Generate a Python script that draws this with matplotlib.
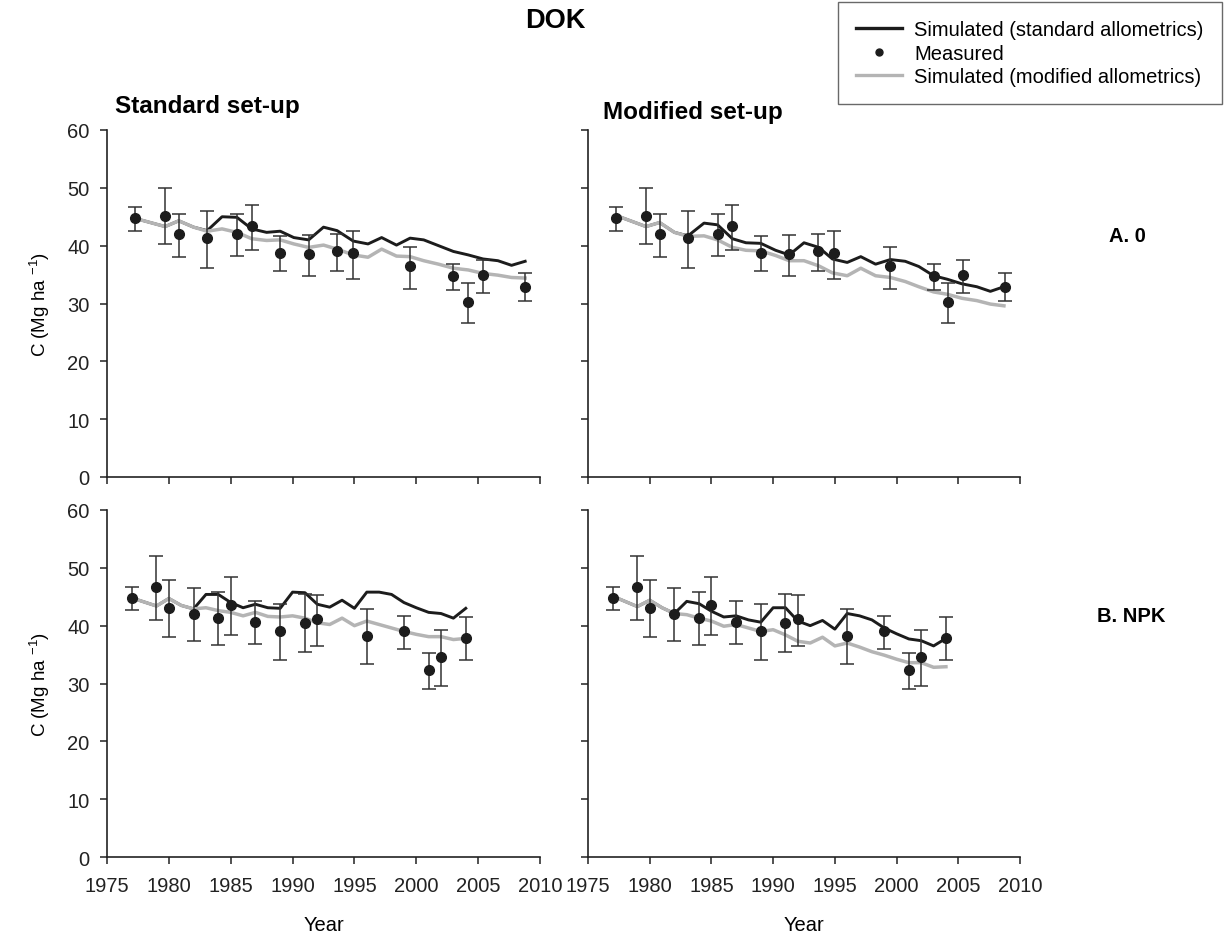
import matplotlib
matplotlib.use("Agg")
import matplotlib.pyplot as plt
import numpy as np
from matplotlib.lines import Line2D

plt.rcParams['font.family'] = ['Liberation Sans', 'DejaVu Sans']
plt.rcParams['mathtext.default'] = 'regular'

# ---- A. 0 treatment ----
meas_a_year = [1977.3, 1979.7, 1980.8, 1983.1, 1985.5, 1986.7, 1989.0, 1991.3,
               1993.6, 1994.9, 1999.5, 2003.0, 2004.2, 2005.4, 2008.8]
meas_a = [44.7, 45.1, 42.0, 41.3, 42.0, 43.4, 38.7, 38.6, 39.0, 38.7, 36.4, 34.7, 30.3, 34.9, 32.9]
meas_a_hi = [46.6, 49.9, 45.5, 46.0, 45.5, 47.1, 41.6, 41.8, 42.1, 42.5, 39.8, 36.8, 33.6, 37.6, 35.2]
meas_a_lo = [42.5, 40.3, 38.0, 36.1, 38.2, 39.3, 35.7, 34.7, 35.7, 34.3, 32.5, 32.3, 26.7, 31.8, 30.5]

sim_a_std_year = [1977.3, 1979.7, 1980.8, 1982.0, 1983.1, 1984.3, 1985.5, 1986.7, 1987.9,
                  1989.0, 1990.1, 1991.3, 1992.5, 1993.6, 1994.9, 1996.1, 1997.2, 1998.4,
                  1999.5, 2000.6, 2001.8, 2003.0, 2004.2, 2005.4, 2006.6, 2007.7, 2008.8]
sim_a_std_std = [44.7, 43.3, 44.3, 43.2, 42.6, 45.0, 44.9, 42.9, 42.3, 42.5, 41.4, 41.0,
                 43.2, 42.6, 40.8, 40.3, 41.4, 40.1, 41.3, 41.0, 40.0, 39.0, 38.4, 37.7,
                 37.4, 36.6, 37.3]
sim_a_std_mod = [44.7, 43.3, 44.3, 43.2, 42.5, 42.9, 42.3, 41.2, 40.9, 41.0, 40.3, 39.7,
                 40.1, 39.4, 38.4, 38.0, 39.4, 38.2, 38.1, 37.4, 36.8, 36.1, 35.8, 35.2,
                 34.9, 34.5, 34.4]

sim_a_mod_year = [1977.3, 1979.7, 1980.8, 1982.0, 1983.1, 1984.4, 1985.5, 1986.7, 1987.8,
                  1989.0, 1990.2, 1991.3, 1992.5, 1993.7, 1994.8, 1996.0, 1997.1, 1998.3,
                  1999.5, 2000.7, 2001.8, 2003.0, 2004.1, 2005.3, 2006.5, 2007.6, 2008.7]
sim_a_mod_std = [45.2, 43.3, 44.0, 42.3, 41.7, 43.9, 43.6, 41.2, 40.5, 40.4, 39.2, 38.4,
                 40.5, 39.7, 37.7, 37.1, 38.1, 36.8, 37.6, 37.3, 36.4, 34.8, 34.2, 33.4,
                 32.9, 32.1, 32.9]
sim_a_mod_mod = [45.2, 43.3, 44.0, 42.3, 41.6, 41.7, 41.0, 39.7, 39.2, 39.1, 38.3, 37.4,
                 37.4, 36.5, 35.3, 34.8, 36.1, 34.8, 34.5, 33.8, 32.9, 32.0, 31.6, 30.9,
                 30.5, 29.9, 29.6]

# ---- B. NPK treatment ----
meas_b_year = [1977, 1979, 1980, 1982, 1984, 1985, 1987, 1989, 1991, 1992, 1996, 1999, 2001, 2002, 2004]
meas_b = [44.8, 46.7, 43.1, 42.0, 41.3, 43.5, 40.7, 39.1, 40.5, 41.2, 38.2, 39.0, 32.4, 34.5, 37.8]
meas_b_hi = [46.7, 52.1, 47.9, 46.5, 45.8, 48.4, 44.2, 43.7, 45.4, 45.3, 42.8, 41.7, 35.2, 39.2, 41.5]
meas_b_lo = [42.7, 41.0, 38.0, 37.4, 36.6, 38.3, 36.9, 34.1, 35.5, 36.4, 33.4, 36.0, 29.1, 29.5, 34.0]

sim_b_year = [1977] + list(range(1979, 2005))
sim_b_std_std = [44.8, 43.4, 44.7, 43.5, 42.9, 45.4, 45.4, 44.0, 43.1, 43.7, 43.1, 43.0,
                 45.8, 45.7, 43.7, 43.2, 44.4, 43.0, 45.8, 45.8, 45.4, 44.0, 43.1, 42.3,
                 42.1, 41.3, 43.0]
sim_b_std_mod = [44.8, 43.4, 44.7, 43.5, 42.9, 43.1, 42.6, 42.3, 41.7, 42.3, 41.6, 41.5,
                 41.7, 41.3, 40.5, 40.2, 41.3, 40.0, 40.8, 40.2, 39.6, 39.0, 38.5, 38.1,
                 38.1, 37.6, 37.8]
sim_b_mod_std = [45.1, 43.3, 44.4, 43.1, 42.1, 44.2, 43.8, 42.5, 41.5, 41.7, 41.0, 40.6,
                 43.1, 43.1, 40.8, 40.0, 40.9, 39.4, 42.1, 41.7, 41.0, 39.6, 38.6, 37.7,
                 37.4, 36.5, 37.8]
sim_b_mod_mod = [45.1, 43.3, 44.4, 43.1, 42.1, 41.9, 41.3, 40.8, 39.9, 40.2, 39.6, 39.0,
                 39.3, 38.4, 37.3, 37.0, 38.0, 36.5, 37.0, 36.3, 35.5, 34.9, 34.2, 33.6,
                 33.6, 32.8, 32.9]

BLACK = '#1c1c1c'
GREY = '#b4b4b4'
FS = 14.5

fig = plt.figure(figsize=(12.3, 9.37), dpi=100)
W, H = 1230, 937


def make_ax(x0, x1, y0, y1):
    return fig.add_axes([x0 / W, 1 - y1 / H, (x1 - x0) / W, (y1 - y0) / H])


ax_tl = make_ax(107, 540, 131, 478)
ax_tr = make_ax(588, 1020, 131, 478)
ax_bl = make_ax(107, 540, 511, 858)
ax_br = make_ax(588, 1020, 511, 858)


def draw_panel(ax, syear, s_std, s_mod, myear, m, mlo, mhi):
    ax.plot(syear, s_std, color=BLACK, lw=2.1, zorder=2)
    ax.plot(syear, s_mod, color=GREY, lw=2.5, zorder=3)
    m = np.array(m)
    yerr = [m - np.array(mlo), np.array(mhi) - m]
    ax.errorbar(myear, m, yerr=yerr, fmt='o', color=BLACK, ms=7, ecolor='#333333',
                elinewidth=1.1, capsize=5, capthick=1.1, zorder=4)
    ax.set_xlim(1975, 2010)
    ax.set_ylim(0, 60)
    ax.set_xticks(range(1975, 2011, 5))
    ax.set_yticks(range(0, 61, 10))
    for s in ['top', 'right']:
        ax.spines[s].set_visible(False)
    for s in ['left', 'bottom']:
        ax.spines[s].set_linewidth(1.2)
        ax.spines[s].set_color('#222222')
    ax.tick_params(direction='out', length=5, width=1.1, labelsize=FS, colors='#222222')
    ax.tick_params(axis='x', pad=9)
    ax.tick_params(axis='y', pad=7.5)


draw_panel(ax_tl, sim_a_std_year, sim_a_std_std, sim_a_std_mod,
           meas_a_year, meas_a, meas_a_lo, meas_a_hi)
draw_panel(ax_tr, sim_a_mod_year, sim_a_mod_std, sim_a_mod_mod,
           meas_a_year, meas_a, meas_a_lo, meas_a_hi)
draw_panel(ax_bl, sim_b_year, sim_b_std_std, sim_b_std_mod,
           meas_b_year, meas_b, meas_b_lo, meas_b_hi)
draw_panel(ax_br, sim_b_year, sim_b_mod_std, sim_b_mod_mod,
           meas_b_year, meas_b, meas_b_lo, meas_b_hi)

for ax in [ax_tl, ax_tr]:
    ax.tick_params(axis='x', labelbottom=False)
for ax in [ax_tr, ax_br]:
    ax.tick_params(axis='y', labelleft=False)

for ax in [ax_tl, ax_bl]:
    ax.set_ylabel('C (Mg ha $^{-1}$)', fontsize=13.5, labelpad=11)
for ax in [ax_bl, ax_br]:
    ax.set_xlabel('Year', fontsize=FS, labelpad=14)

fig.text(555 / W, 1 - 21 / H, 'DOK', fontsize=19.5, fontweight='bold', ha='center', va='center')
fig.text(115 / W, 1 - 107 / H, 'Standard set-up', fontsize=17.5, fontweight='bold',
         ha='left', va='center')
fig.text(603 / W, 1 - 112 / H, 'Modified set-up', fontsize=17.5, fontweight='bold',
         ha='left', va='center')
fig.text(1127 / W, 1 - 237 / H, 'A. 0', fontsize=14.5, fontweight='bold', ha='center', va='center')
fig.text(1131 / W, 1 - 617 / H, 'B. NPK', fontsize=14.5, fontweight='bold', ha='center', va='center')

handles = [Line2D([], [], color=BLACK, lw=2.4),
           Line2D([], [], color=BLACK, marker='o', ls='none', ms=5),
           Line2D([], [], color=GREY, lw=2.4)]
labels = ['Simulated (standard allometrics)', 'Measured', 'Simulated (modified allometrics)']
leg = fig.legend(handles, labels, loc='upper right', bbox_to_anchor=(1222 / W, 1 - 3 / H),
                 borderaxespad=0, fontsize=FS, frameon=True, fancybox=False,
                 edgecolor='#444444', handlelength=2.3, handletextpad=0.6,
                 labelspacing=0.22, borderpad=0.9)
leg.get_frame().set_linewidth(1.0)

fig.savefig('out.png', dpi=100)
